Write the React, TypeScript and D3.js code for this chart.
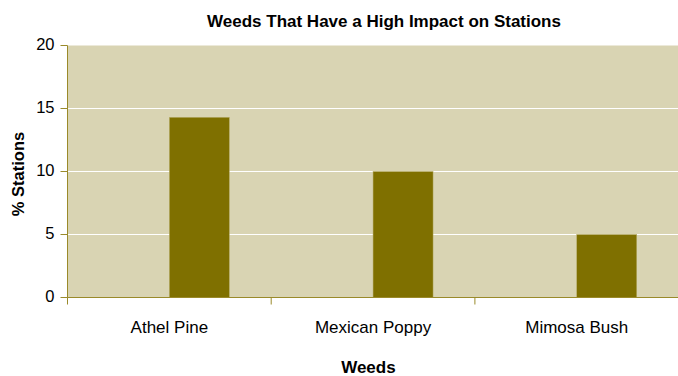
import React from "react";
import * as d3 from "d3";

const categories = ["Athel Pine", "Mexican Poppy", "Mimosa Bush"];
const values = [14.3, 10, 5];
const yTicks = [0, 5, 10, 15, 20];

const W = 678;
const H = 376;
const left = 67.5;
const right = 678.6;
const top = 45.5;
const bottom = 297.5;

export default function App() {
  const x = d3.scaleBand<string>().domain(categories).range([left, right]);
  const y = d3.scaleLinear().domain([0, 20]).range([bottom, top]);
  const bw = x.bandwidth();
  const barW = 60;
  const axisColor = "#9a8a2a";
  const font = "Liberation Sans, Arial, sans-serif";

  return (
    <svg width={W} height={H} style={{ position: "absolute", left: 0, top: 0 }} fontFamily={font}>
      <rect x={0} y={0} width={W} height={H} fill="#ffffff" />
      <rect x={left} y={top} width={right - left} height={bottom - top} fill="#d9d4b3" />
      {yTicks.filter((t) => t > 0 && t < 20).map((t) => (
        <line key={t} x1={left} x2={right} y1={y(t)} y2={y(t)} stroke="#ffffff" strokeWidth={1} />
      ))}
      {categories.map((c, i) => (
        <rect
          key={c}
          x={x(c)! + bw / 2}
          y={y(values[i])}
          width={barW}
          height={bottom - y(values[i])}
          fill="#7f7000"
          stroke="#b7ad6a"
          strokeWidth={0.5}
        />
      ))}
      {/* y axis */}
      <line x1={left} x2={left} y1={top} y2={bottom} stroke={axisColor} strokeWidth={1} />
      {yTicks.map((t) => (
        <g key={t}>
          <line x1={left - 7} x2={left} y1={y(t)} y2={y(t)} stroke={axisColor} />
          <text x={54.5} y={y(t) + 4.5} textAnchor="end" fontSize={16.5} fill="#000">
            {t}
          </text>
        </g>
      ))}
      {/* x axis */}
      <line x1={left} x2={right} y1={bottom} y2={bottom} stroke={axisColor} strokeWidth={1} />
      {categories.map((c, i) => (
        <g key={c}>
          <line x1={x(c)!} x2={x(c)!} y1={bottom} y2={bottom + 7} stroke={axisColor} />
          <text x={x(c)! + bw / 2} y={332.7} textAnchor="middle" fontSize={17} fill="#000">
            {c}
          </text>
        </g>
      ))}
      <text x={384} y={26.5} textAnchor="middle" fontSize={17} fontWeight="bold" fill="#000">
        Weeds That Have a High Impact on Stations
      </text>
      <text x={368.4} y={373.3} textAnchor="middle" fontSize={17} fontWeight="bold" fill="#000">
        Weeds
      </text>
      <text
        transform={`translate(24,174) rotate(-90)`}
        textAnchor="middle"
        fontSize={16.5}
        fontWeight="bold"
        fill="#000"
      >
        % Stations
      </text>
    </svg>
  );
}
